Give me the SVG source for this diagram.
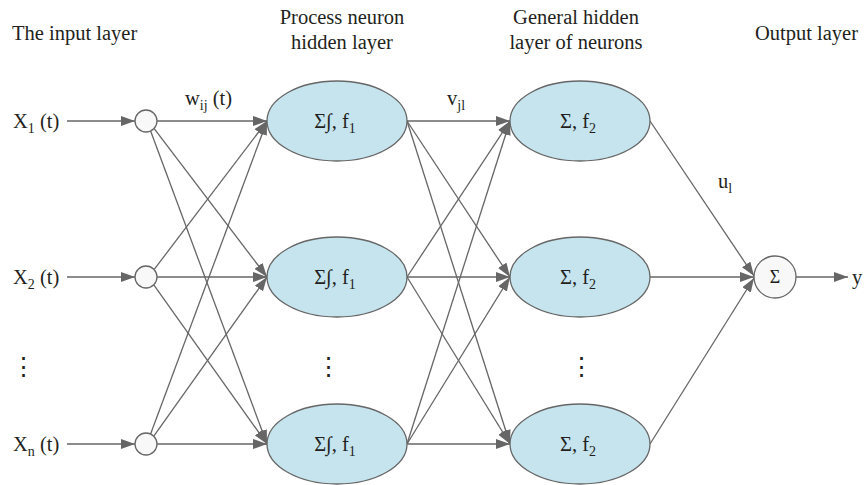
<svg xmlns="http://www.w3.org/2000/svg" width="864" height="485" viewBox="0 0 864 485">
<style>
text{font-family:"Liberation Serif","DejaVu Serif",serif;fill:#231f20;font-size:20.5px}
.sub{font-size:14px}
.c{stroke:#666;stroke-width:1.3;fill:none}
.in{fill:#f8f8f8;stroke:#666;stroke-width:1.3}
.el{fill:#c5e4ee;stroke:#666;stroke-width:1.3}
.mid{text-anchor:middle}
.dots{font-size:25px}
</style>
<defs>
<marker id="ah" markerWidth="14" markerHeight="10" refX="14" refY="5" orient="auto" markerUnits="userSpaceOnUse">
<path d="M0,0 L14,5 L0,10 Z" fill="#666"/>
</marker>
</defs>
<g id="headers">
<text x="12" y="40">The input layer</text>
<text x="342" y="24" class="mid">Process neuron</text>
<text x="342" y="49" class="mid">hidden layer</text>
<text x="576" y="24" class="mid">General hidden</text>
<text x="576" y="49" class="mid">layer of neurons</text>
<text x="755" y="40">Output layer</text>
</g>
<g id="connectors">
<line class="c" x1="67" y1="121" x2="135" y2="121" marker-end="url(#ah)"/>
<line class="c" x1="67" y1="277" x2="135" y2="277" marker-end="url(#ah)"/>
<line class="c" x1="67" y1="444" x2="135" y2="444" marker-end="url(#ah)"/>
<line class="c" x1="157" y1="121" x2="267" y2="121" marker-end="url(#ah)"/>
<line class="c" x1="154.2" y1="128.6" x2="267" y2="277" marker-end="url(#ah)"/>
<line class="c" x1="150.6" y1="131" x2="267" y2="444" marker-end="url(#ah)"/>
<line class="c" x1="154.2" y1="269.4" x2="267" y2="121" marker-end="url(#ah)"/>
<line class="c" x1="157" y1="277" x2="267" y2="277" marker-end="url(#ah)"/>
<line class="c" x1="153.8" y1="284.8" x2="267" y2="444" marker-end="url(#ah)"/>
<line class="c" x1="150.6" y1="434" x2="267" y2="121" marker-end="url(#ah)"/>
<line class="c" x1="153.8" y1="436.2" x2="267" y2="277" marker-end="url(#ah)"/>
<line class="c" x1="157" y1="444" x2="267" y2="444" marker-end="url(#ah)"/>
<line class="c" x1="407" y1="121" x2="510" y2="121" marker-end="url(#ah)"/>
<line class="c" x1="407" y1="121" x2="510" y2="277" marker-end="url(#ah)"/>
<line class="c" x1="407" y1="121" x2="510" y2="444" marker-end="url(#ah)"/>
<line class="c" x1="407" y1="277" x2="510" y2="121" marker-end="url(#ah)"/>
<line class="c" x1="407" y1="277" x2="510" y2="277" marker-end="url(#ah)"/>
<line class="c" x1="407" y1="277" x2="510" y2="444" marker-end="url(#ah)"/>
<line class="c" x1="407" y1="444" x2="510" y2="121" marker-end="url(#ah)"/>
<line class="c" x1="407" y1="444" x2="510" y2="277" marker-end="url(#ah)"/>
<line class="c" x1="407" y1="444" x2="510" y2="444" marker-end="url(#ah)"/>
<line class="c" x1="650" y1="121" x2="754" y2="276" marker-end="url(#ah)"/>
<line class="c" x1="650" y1="277" x2="754" y2="277" marker-end="url(#ah)"/>
<line class="c" x1="650" y1="444" x2="754" y2="278" marker-end="url(#ah)"/>
<line class="c" x1="796" y1="277" x2="848" y2="277" marker-end="url(#ah)"/>
</g>
<g id="labels">
<text x="13" y="128">X<tspan class="sub" dy="5">1</tspan><tspan dy="-5"> (t)</tspan></text>
<text x="13" y="284">X<tspan class="sub" dy="5">2</tspan><tspan dy="-5"> (t)</tspan></text>
<text x="13" y="451">X<tspan class="sub" dy="5">n</tspan><tspan dy="-5"> (t)</tspan></text>
<text x="185" y="105">w<tspan class="sub" dy="5">ij</tspan><tspan dy="-5"> (t)</tspan></text>
<text x="447" y="105">v<tspan class="sub" dy="5">jl</tspan></text>
<text x="718" y="188">u<tspan class="sub" dy="5">l</tspan></text>
<text x="852" y="284">y</text>
<text x="23" y="375" class="mid dots">⋮</text>
<text x="328" y="375" class="mid dots">⋮</text>
<text x="581" y="375" class="mid dots">⋮</text>
</g>
<g id="in1"><circle class="in" cx="146" cy="121" r="11"/></g>
<g id="in2"><circle class="in" cx="146" cy="277" r="11"/></g>
<g id="in3"><circle class="in" cx="146" cy="444" r="11"/></g>
<g id="p1"><ellipse class="el" cx="337" cy="121" rx="70" ry="40"/><text x="335" y="128" class="mid">Σ∫, f<tspan class="sub" dy="5">1</tspan></text></g>
<g id="p2"><ellipse class="el" cx="337" cy="277" rx="70" ry="40"/><text x="335" y="284" class="mid">Σ∫, f<tspan class="sub" dy="5">1</tspan></text></g>
<g id="p3"><ellipse class="el" cx="337" cy="444" rx="70" ry="40"/><text x="335" y="451" class="mid">Σ∫, f<tspan class="sub" dy="5">1</tspan></text></g>
<g id="h1"><ellipse class="el" cx="580" cy="121" rx="70" ry="40"/><text x="578" y="128" class="mid">Σ, f<tspan class="sub" dy="5">2</tspan></text></g>
<g id="h2"><ellipse class="el" cx="580" cy="277" rx="70" ry="40"/><text x="578" y="284" class="mid">Σ, f<tspan class="sub" dy="5">2</tspan></text></g>
<g id="h3"><ellipse class="el" cx="580" cy="444" rx="70" ry="40"/><text x="578" y="451" class="mid">Σ, f<tspan class="sub" dy="5">2</tspan></text></g>
<g id="out"><circle class="in" cx="775" cy="277" r="21"/><text x="775" y="283" class="mid" style="font-size:18px">Σ</text></g>
</svg>
